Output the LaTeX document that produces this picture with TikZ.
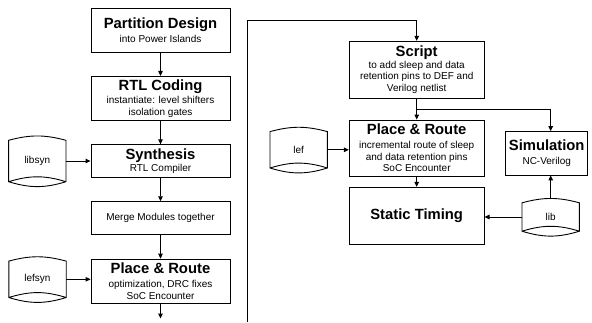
\documentclass[tikz,border=0pt]{standalone}
\usepackage{fontspec}
\setmainfont{Liberation Sans}
\usetikzlibrary{arrows.meta,positioning}
\newcommand{\hd}[1]{{\fontsize{14.8}{16}\selectfont\bfseries #1}}
\tikzset{
  >={Triangle[length=5pt,width=4.5pt]},
  node distance=23.5pt,
  flow/.style ={line width=0.9pt},
  blk/.style  ={draw, line width=0.9pt, align=center, inner sep=1pt, minimum width=139pt,
                font=\fontsize{10}{11.5}\selectfont},
  store/.style={inner sep=0pt, minimum width=57pt, font=\fontsize{10}{12}\selectfont}
}
\begin{document}
\begin{tikzpicture}[x=1pt,y=-1pt]
\useasboundingbox (0,0) rectangle (592,322);
% left column: partition to place & route
\node[blk, minimum height=44pt] (part) at (160.5,30) {\hd{Partition Design}\\[2.5pt]into Power Islands};
\node[blk, minimum height=44pt, below=of part] (rtl) {\hd{RTL Coding}\\[2pt]instantiate: level shifters\\isolation gates};
\node[blk, minimum height=32.5pt, below=of rtl] (synth) {\hd{Synthesis}\\[1pt]RTL Compiler};
\node[blk, minimum height=33pt, below=of synth] (merge) {Merge Modules together};
\node[blk, minimum height=44pt, below=of merge] (pr) {\hd{Place \& Route}\\[2.5pt]optimization, DRC fixes\\SoC Encounter};
\node[store, minimum height=41pt] (libsyn) at (37.3,161) {libsyn};
\node[store, minimum height=36pt] (lefsyn) at (37.5,279.3) {lefsyn};
% right part: script, incremental route, checks
\node[blk, minimum width=134.7pt, minimum height=57pt] (script) at (416.7,69.8) {\hd{Script}\\to add sleep and data\\retention pins to DEF and\\Verilog netlist};
\node[blk, minimum width=134.7pt, minimum height=56pt] (pr2) at (416.7,148) {\hd{Place \& Route}\\[2.5pt]incremental route of sleep\\and data retention pins\\SoC Encounter};
\node[blk, minimum width=134.7pt, minimum height=56.7pt] (sta) at (416.7,215.7) {\hd{Static Timing}};
\node[blk, minimum width=82pt, minimum height=43.3pt] (sim) at (546.7,153.3) {\hd{Simulation}\\[3pt]NC-Verilog};
\node[store, minimum height=36pt] (lef) at (298.7,149.8) {lef};
\node[store, minimum height=28pt] (lib) at (550.7,217) {lib};
\coordinate (bot) at (247.3,322);
\coordinate (top) at (247.3,20);
\coordinate (br) at (416.7,109);
% storage outlines
\foreach \s in {libsyn,lefsyn,lef,lib}
  \draw[flow] (\s.north west) to[bend left=15] (\s.north east) -- (\s.south east)
    to[bend left=17] (\s.south west) -- cycle
    (\s.south west) to[bend left=17] (\s.south east);
% connectors
\draw[flow,->] (part) -- (rtl);
\draw[flow,->] (rtl) -- (synth);
\draw[flow,->] (synth) -- (merge);
\draw[flow,->] (merge) -- (pr);
\draw[flow,->] (pr.south) -- ++(0,15);
\draw[flow,->] (libsyn.east) -- (synth.west |- libsyn.east);
\draw[flow,->] (lefsyn.east) -- (pr.west |- lefsyn.east);
\draw[flow,->] (bot) -- (top) -| (script.north);
\draw[flow,->] (script) -- (pr2);
\draw[flow,->] (br) -| (lib.north |- sim.north);
\draw[flow,->] (pr2) -- (sta);
\draw[flow,->] (lef.east) -- (pr2.west |- lef.east);
\draw[flow,->] (lib.west) -- (sta.east |- lib.west);
\draw[flow,->] ([yshift=3.5pt]lib.north) -- (lib.north |- sim.south);
\end{tikzpicture}
\end{document}
